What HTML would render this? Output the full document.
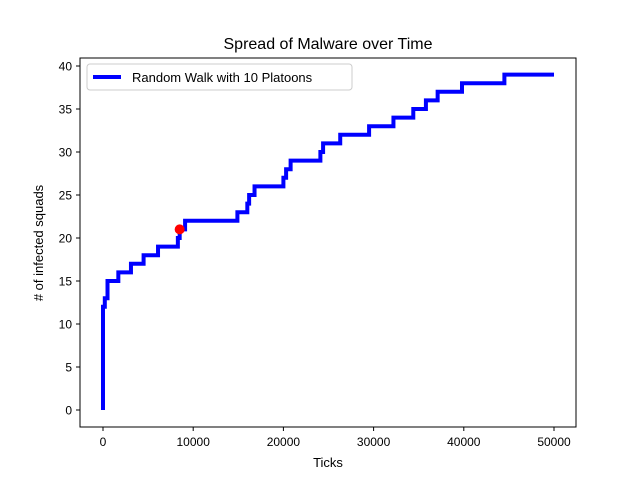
<!DOCTYPE html>
<html><head><meta charset="utf-8"><style>
body{margin:0;background:#fff}
svg{display:block;font-family:"Liberation Sans","DejaVu Sans",sans-serif}
</style></head><body>
<svg id="c" width="640" height="480">
<rect width="640" height="480" fill="#fff"/>
<text x="328" y="49" font-size="16" text-anchor="middle">Spread of Malware over Time</text>
<text x="328" y="467" font-size="13" text-anchor="middle">Ticks</text>
<text transform="translate(43,243) rotate(-90)" font-size="13" text-anchor="middle"># of infected squads</text>
<g id="ticks"></g>
<path id="line" fill="none" stroke="#0000ff" stroke-width="4" stroke-linejoin="miter"/>
<circle id="dot" r="5" fill="#ff0000"/>
<rect x="80" y="58" width="496" height="369" fill="none" stroke="#000" stroke-width="1"/>
<g>
<rect x="87" y="64" width="265" height="26" rx="3" fill="#fff" stroke="#ccc"/>
<line x1="93" y1="77" x2="121" y2="77" stroke="#0000ff" stroke-width="4"/>
<text x="132" y="82" font-size="13">Random Walk with 10 Platoons</text>
</g>
</svg>
<script>
const stepX=[0,0,200,500,1700,3100,4500,6100,8300,8500,9100,14900,16000,16200,16800,20000,20300,20800,24100,24400,26300,29500,32200,34400,35800,37100,39800,44500];
const stepY=[0,12,13,15,16,17,18,19,20,21,22,23,24,25,26,27,28,29,30,31,32,33,34,35,36,37,38,39];
const endX=50000;
const dotX=[8500], dotY=[21];
const xTicks=[0,10000,20000,30000,40000,50000];
const yTicks=[0,5,10,15,20,25,30,35,40];
const sx=v=>103+v*(554-103)/50000;
const sy=v=>410-v*(410-66)/40;
let d='M'+sx(stepX[0])+','+sy(stepY[0]);
for(let i=1;i<stepX.length;i++){d+=' H'+sx(stepX[i])+' V'+sy(stepY[i]);}
d+=' H'+sx(endX);
document.getElementById('line').setAttribute('d',d);
const dot=document.getElementById('dot');
dot.setAttribute('cx',sx(dotX[0]));dot.setAttribute('cy',sy(dotY[0]));
const g=document.getElementById('ticks');const NS='http://www.w3.org/2000/svg';
xTicks.forEach(t=>{const x=sx(t);
const l=document.createElementNS(NS,'line');l.setAttribute('x1',x);l.setAttribute('x2',x);l.setAttribute('y1',427);l.setAttribute('y2',431);l.setAttribute('stroke','#000');


g.appendChild(l);
const tx=document.createElementNS(NS,'text');tx.setAttribute('x',x);tx.setAttribute('y',446);tx.setAttribute('font-size','12');tx.setAttribute('text-anchor','middle');tx.textContent=t;


g.appendChild(tx);});
yTicks.forEach(t=>{const y=sy(t);
const l=document.createElementNS(NS,'line');l.setAttribute('x1',76);l.setAttribute('x2',80);l.setAttribute('y1',y);l.setAttribute('y2',y);l.setAttribute('stroke','#000');


g.appendChild(l);
const tx=document.createElementNS(NS,'text');tx.setAttribute('x',72);tx.setAttribute('y',y+4.5);tx.setAttribute('font-size','12');tx.setAttribute('text-anchor','end');tx.textContent=t;


g.appendChild(tx);});
</script>
</body></html>
